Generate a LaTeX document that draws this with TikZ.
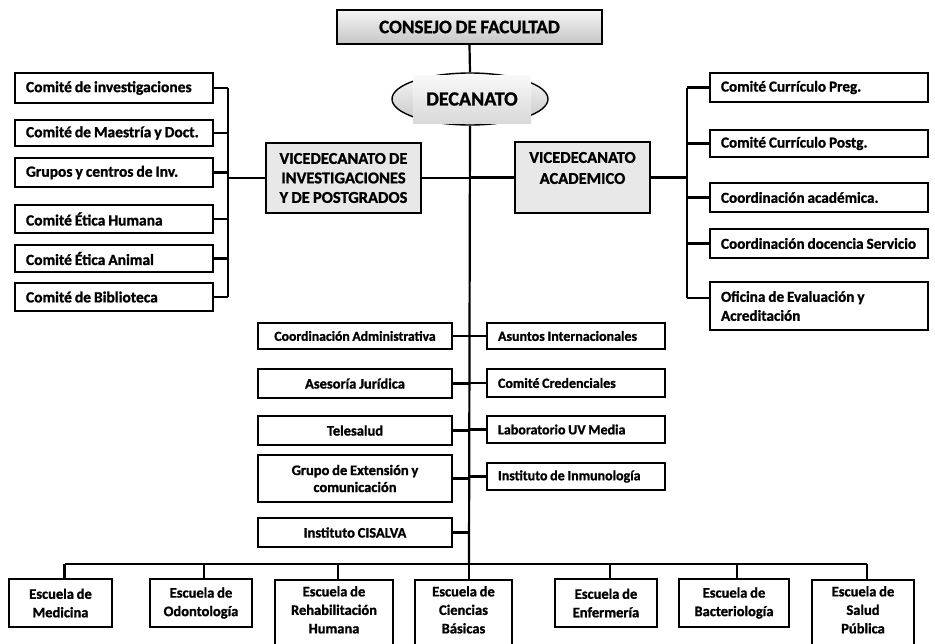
\documentclass[tikz,border=0pt]{standalone}
\usepackage{fontspec}
\setmainfont{Carlito}[WordSpace=0.85, BoldFeatures={FakeBold=1.2}]
\usetikzlibrary{calc,shapes.geometric}
\tikzset{
  base/.style={draw=black, line width=2.2pt, inner sep=0pt, font=\bfseries\fontsize{14.5}{17}\selectfont, fill=white},
  boxc/.style={base, align=center},
  boxl/.style={base, font=\bfseries\fontsize{15.5}{19}\selectfont},
  boxr/.style={base, font=\bfseries\fontsize{15.2}{19}\selectfont},
  vbox/.style={base, fill=gray!18, align=center, font=\bfseries\fontsize{16.5}{19.5}\selectfont},
  school/.style={base, align=center, font=\bfseries\fontsize{14.5}{18.5}\selectfont},
  mid/.style={base, align=center, font=\bfseries\fontsize{13.7}{16}\selectfont},
  midl/.style={base, font=\bfseries\fontsize{14}{16}\selectfont},
  conn/.style={line width=2.2pt, black},
}
% name, style, x1, y1, x2, y2, text
\newcommand\bxc[7]{\node[#2, minimum width={#5-#3}, minimum height={#6-#4}] (#1) at ({(#3+#5)/2},{(#4+#6)/2}) {#7};}
% left aligned
\newcommand\bxl[7]{\node[#2, align=flush left, minimum width={#5-#3}, minimum height={#6-#4}, text width={#5-#3-22}] (#1) at ({(#3+#5)/2},{(#4+#6)/2}) {#7};}
\begin{document}
\begin{tikzpicture}[x=1pt,y=-1pt]
\clip (0,0) rectangle (935,643);
\fill[white] (0,0) rectangle (935,643);
\coordinate (M) at (469,0);
\coordinate (Lb) at (228,0);
\coordinate (Rb) at (687,0);
\coordinate (B) at (469,564);

% top
\node[draw=black, line width=2.2pt, top color=gray!8, bottom color=gray!45, minimum width=265, minimum height=34, inner sep=0pt, font=\bfseries\fontsize{19}{21}\selectfont] (consejo) at (469.5,27) {CONSEJO DE FACULTAD};
\node[ellipse, draw=black, line width=1.4pt, top color=gray!5, bottom color=gray!45, minimum width=156, minimum height=52, inner sep=0pt] (decanato) at (470,99) {};
\node[top color=gray!5, bottom color=gray!30, minimum width=118, minimum height=48, inner sep=0pt, font=\bfseries\fontsize{20}{22}\selectfont] (decin) at (472,99) {DECANATO};

% vicedecanatos
\bxc{vi}{vbox}{266}{143}{421}{213}{VICEDECANATO DE\\INVESTIGACIONES\\Y DE POSTGRADOS}
\node[vbox, minimum width=135, minimum height=71, anchor=center] (va) at (582.5,177.5) {};
\node[font=\bfseries\fontsize{16.5}{21}\selectfont, align=center, inner sep=0pt] (vat) at (582.5,168) {VICEDECANATO\\ACADEMICO};

% left column
\bxl{l1}{boxl}{15}{73}{213}{103}{Comité de investigaciones}
\bxl{l2}{boxl}{15}{120}{213}{146}{Comité de Maestría y Doct.}
\bxl{l3}{boxl}{15}{158}{213}{187}{Grupos y centros de Inv.}
\bxl{l4}{boxl}{15}{205}{213}{233}{Comité Ética Humana}
\bxl{l5}{boxl}{15}{245}{213}{272}{Comité Ética Animal}
\bxl{l6}{boxl}{15}{283}{213}{311}{Comité de Biblioteca}

% right column
\bxl{r1}{boxr}{710}{73}{928}{102}{Comité Currículo Preg.}
\bxl{r2}{boxr}{710}{130}{928}{157}{Comité Currículo Postg.}
\bxl{r3}{boxr}{710}{183}{928}{212}{Coordinación académica.}
\bxl{r4}{boxr}{710}{229}{928}{258}{\mbox{Coordinación docencia Servicio}}
\bxl{r5}{boxr}{710}{282}{928}{330}{Oficina de Evaluación y\\Acreditación}

% middle
\bxc{m1}{mid}{258}{323}{452}{349}{Coordinación Administrativa}
\bxc{m2}{boxc}{258}{369}{452}{398}{Asesoría Jurídica}
\bxc{m3}{boxc}{258}{416}{452}{445}{Telesalud}
\bxc{m4}{boxc}{258}{455}{452}{502}{Grupo de Extensión y\\comunicación}
\bxc{m5}{boxc}{258}{518}{452}{547}{Instituto CISALVA}
\bxl{n1}{midl}{487}{323}{665}{349}{Asuntos Internacionales}
\bxl{n2}{midl}{487}{369}{665}{397}{Comité Credenciales}
\bxl{n3}{midl}{487}{416}{665}{443}{Laboratorio UV Media}
\bxl{n4}{midl}{487}{463}{665}{490}{Instituto de Inmunología}

% schools
\bxc{s1}{school}{9}{579}{112}{627}{Escuela de\\Medicina}
\bxc{s2}{school}{150}{579}{252}{627}{Escuela de\\Odontología}
\node[school, minimum width=118, minimum height=80, anchor=north] (s3) at (334,579) {};
\node[font=\bfseries\fontsize{14.5}{18.5}\selectfont, align=center, inner sep=0pt, anchor=north] at (334,586) {Escuela de\\Rehabilitación\\Humana};
\node[school, minimum width=97, minimum height=80, anchor=north] (s4) at (463.5,579) {};
\node[font=\bfseries\fontsize{14.5}{18.5}\selectfont, align=center, inner sep=0pt, anchor=north] at (463.5,586) {Escuela de\\Ciencias\\Básicas};
\bxc{s5}{school}{555}{579}{657}{627}{Escuela de\\Enfermería}
\bxc{s6}{school}{679}{579}{789}{627}{Escuela de\\Bacteriología}
\node[school, minimum width=102, minimum height=80, anchor=north] (s7) at (863,579) {};
\node[font=\bfseries\fontsize{14.5}{18.5}\selectfont, align=center, inner sep=0pt, anchor=north] at (863,586) {Escuela de\\Salud\\Pública};

% connectors
\draw[conn] (consejo.south) -- (decanato.north);
\draw[conn] (decanato.south) -- (B);
\draw[conn] (vi.east) -- (vi.east -| M);
\draw[conn] (va.west) -- (va.west -| M);
\draw[conn] (vi.west) -- (vi.west -| Lb);
\draw[conn] (l1.east -| Lb) -- (l6.east -| Lb);
\foreach \n in {l1,l2,l3,l4,l5,l6}{\draw[conn] (\n.east) -- (\n.east -| Lb);}
\draw[conn] (va.east) -- (va.east -| Rb);
\coordinate (r5s) at ([yshift=8pt]r5.west);
\draw[conn] (r1.west -| Rb) -- (r5s -| Rb);
\foreach \n in {r1,r2,r3,r4}{\draw[conn] (\n.west) -- (\n.west -| Rb);}
\draw[conn] (r5s) -- (r5s -| Rb);
\foreach \n in {m1,m2,m3,m4,m5}{\draw[conn] (\n.east) -- (\n.east -| M);}
\foreach \n in {n1,n2,n3,n4}{\draw[conn] (\n.west) -- (\n.west -| M);}
\draw[conn] ([xshift=4pt]s1.north |- B) -- ([xshift=4pt]s7.north |- B);
\foreach \n/\dx in {s1/4,s2/3,s3/4,s4/5.5,s5/4,s6/3,s7/4}{\draw[conn] ([xshift=\dx pt]\n.north) -- ([xshift=\dx pt]\n.north |- B);}
\end{tikzpicture}
\end{document}
